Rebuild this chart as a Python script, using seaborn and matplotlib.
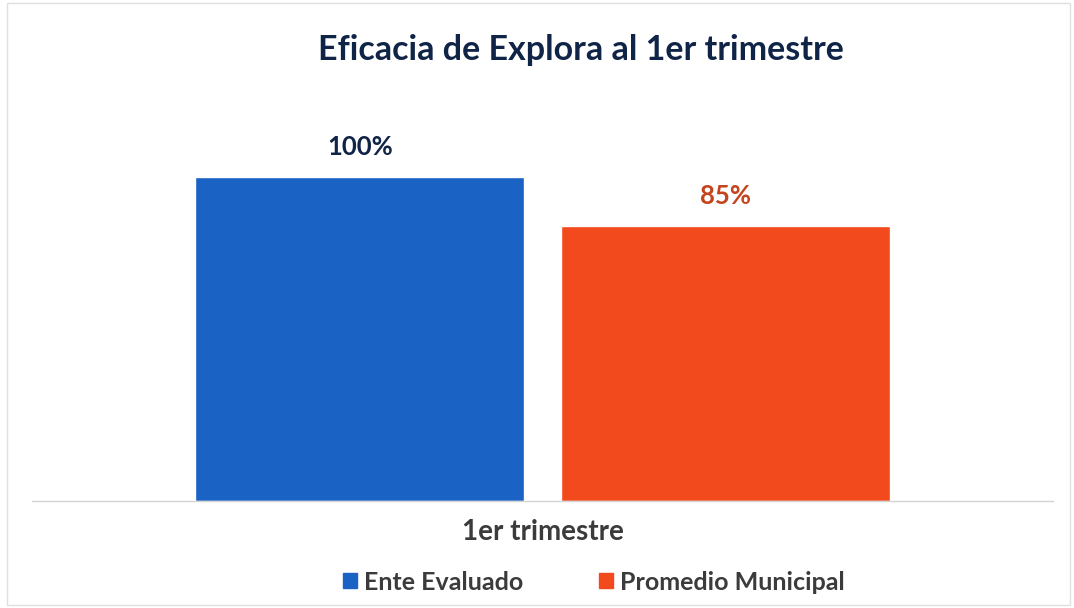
import matplotlib
matplotlib.use("Agg")
import matplotlib.pyplot as plt
import seaborn as sns
import pandas as pd
from matplotlib.patches import Rectangle

categories = ["1er trimestre"]
series = ["Ente Evaluado", "Promedio Municipal"]
values = [100, 85]
labels = ["100%", "85%"]
colors = ["#1a63c5", "#f24a1c"]
label_colors = ["#0f2446", "#c4441e"]

df = pd.DataFrame({
    "cat": categories * len(series),
    "serie": series,
    "valor": values,
})

sns.set_theme(style="white")
plt.rcParams["font.family"] = ["Lato", "DejaVu Sans"]

W, H = 1074, 608
fig = plt.figure(figsize=(W / 100, H / 100), dpi=100)
ax_left, ax_right, ax_bottom = 32, 1053, 501
ax_top = 501 - 324 * 1.2
ax = fig.add_axes([ax_left / W, 1 - ax_bottom / H, (ax_right - ax_left) / W, (ax_bottom - ax_top) / H])

sns.barplot(data=df, x="cat", y="valor", hue="serie", palette=colors,
            width=0.716, gap=0.1, ax=ax, legend=False, saturation=1)
ax.set_ylim(0, 120)
ax.set_xlim(-0.5, 0.5)
ax.set_yticks([])
ax.set_xlabel("")
ax.set_ylabel("")
for s in ["left", "right", "top"]:
    ax.spines[s].set_visible(False)
ax.spines["bottom"].set_color("#d4d4d4")
ax.spines["bottom"].set_linewidth(1.0)
ax.set_xticks([0])
ax.set_xticklabels(categories, fontsize=20, fontweight="bold", color="#3b3b3b")
ax.tick_params(axis="x", length=0, pad=13)

for cont, lab, lc in zip(ax.containers, labels, label_colors):
    ax.bar_label(cont, labels=[lab], padding=13, fontsize=18.5, fontweight="bold", color=lc)

fig.text(581 / W, 1 - 50 / H, "Eficacia de Explora al 1er trimestre", ha="center", va="center",
         fontsize=24.5, fontweight="bold", color="#0f2446")

# legend
handles = [Rectangle((0, 0), 1, 1, color=c) for c in colors]
leg = fig.legend(handles, series, loc="center", bbox_to_anchor=(594 / W, 1 - 582 / H), ncol=2,
                 frameon=False, handlelength=0.55, handleheight=0.55,
                 handletextpad=0.3, columnspacing=3.0, labelcolor="#3b3b3b",
                 prop={"weight": "bold", "size": 18})

fig.patches.append(Rectangle((7 / W, 3 / H), 1063 / W, 602 / H, transform=fig.transFigure,
                             fill=False, edgecolor="#e0e0e0", linewidth=1))

fig.savefig("out.png", dpi=100)
